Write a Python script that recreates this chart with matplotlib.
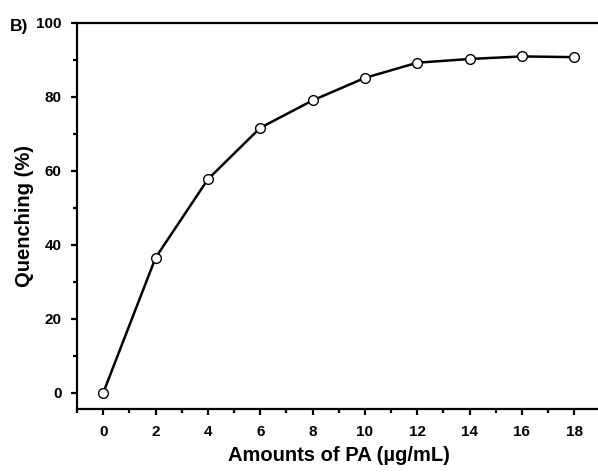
import matplotlib
matplotlib.use("Agg")
import matplotlib.pyplot as plt
from matplotlib.ticker import MultipleLocator

plt.rcParams['font.family'] = ['Liberation Sans', 'DejaVu Sans']
plt.rcParams['font.weight'] = 'bold'

# amount of PA (ug/mL) vs quenching (%)
amounts = [0, 2, 4, 6, 8, 10, 12, 14, 16, 18]
quenching = [0, 36.5, 57.7, 71.6, 79.0, 85.1, 89.2, 90.2, 90.9, 90.7]

fig = plt.figure(figsize=(5.98, 4.74), dpi=100)
ax = fig.add_axes([0.129, 0.1365, 0.875, 0.8155])

ax.plot(amounts, quenching, color='black', linewidth=1.8, marker='o',
        markersize=7, markerfacecolor='white', markeredgecolor='black',
        markeredgewidth=1.0)

ax.set_xlim(-1, 19)
ax.set_ylim(-4.5, 100)
ax.xaxis.set_major_locator(MultipleLocator(2))
ax.xaxis.set_minor_locator(MultipleLocator(1))
ax.yaxis.set_major_locator(MultipleLocator(20))
ax.yaxis.set_minor_locator(MultipleLocator(10))

for side in ['left', 'bottom', 'top']:
    ax.spines[side].set_linewidth(1.6)
ax.spines['right'].set_visible(False)

ax.tick_params(which='major', direction='out', length=4, width=1.6,
               labelsize=11, pad=7)
ax.tick_params(which='minor', direction='out', length=3, width=1.6)
ax.tick_params(top=False, right=False)

ax.set_xlabel("Amounts of PA (\u00b5g/mL)", fontsize=14.5, fontweight='bold', labelpad=5)
ax.set_ylabel("Quenching (%)", fontsize=14.5, fontweight='bold', labelpad=2)

fig.text(0.017, 0.944, "B)", fontsize=12.5, fontweight='bold', va='center', ha='left')

fig.savefig("out.png", dpi=100)
